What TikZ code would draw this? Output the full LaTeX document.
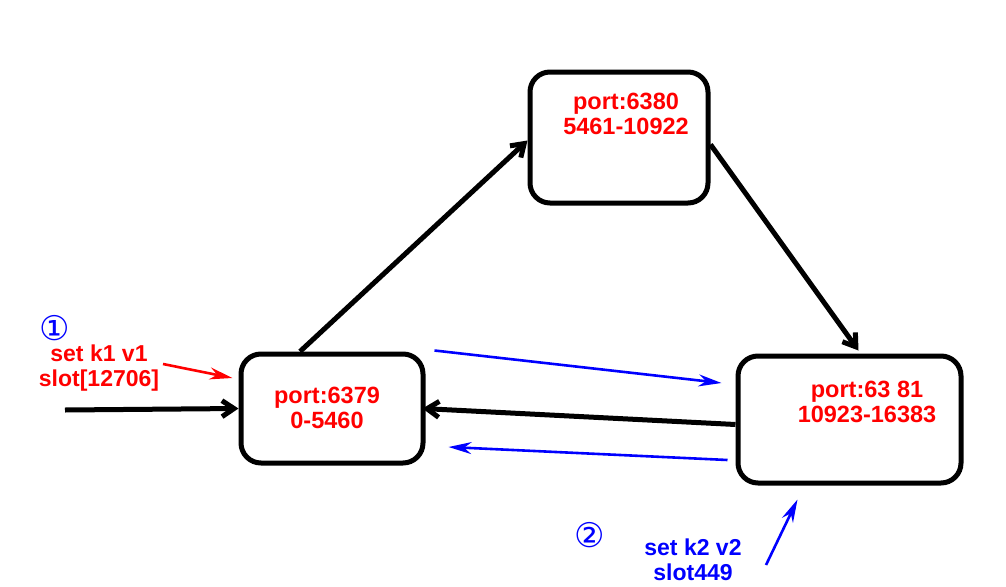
\documentclass[tikz,border=0pt]{standalone}
\usepackage{fontspec}
\setmainfont{Liberation Sans}
\newfontfamily\symfont{DejaVu Sans}
\usepackage{tikz}
\usetikzlibrary{arrows.meta, positioning, calc}
\tikzstyle{server}=[draw=black, line width=5pt, rounded corners=20pt, inner sep=0pt]
\tikzstyle{port}=[text=red, font=\bfseries\fontsize{23.5}{25.5}\selectfont, align=center]
\tikzstyle{link}=[-{Straight Barb[length=12pt,width=16pt]}, line width=5pt, color=black]
\tikzstyle{move}=[-{Stealth[length=23pt,width=12pt]}, line width=2.6pt, color=blue]
\tikzstyle{cmd}=[font=\bfseries\fontsize{23}{24.5}\selectfont, align=center]

\begin{document}
\begin{tikzpicture}[x=1pt, y=-1pt]
  \useasboundingbox (0,0) rectangle (1006,586);

  % Servers
  \node[server, minimum width=178pt, minimum height=131pt] (top) at (619,137.5) {};
  \node[server, minimum width=182pt, minimum height=109pt] (left) at (332,408.5) {};
  \node[server, minimum width=223pt, minimum height=127pt] (right) at (849.5,419.5) {};

  \node[port] (topTxt) at (626,114) {port:6380\\5461-10922};
  \node[port] (leftTxt) at (327,408) {port:6379\\0-5460};
  \node[port] (rightTxt) at (867,402) {port:63 81\\10923-16383};

  % Ring
  \draw[link] ([xshift=-32pt]left.north) -- ([yshift=-3pt]top.west);
  \draw[link] ([yshift=-7pt]top.east) -- ([xshift=9pt,yshift=3pt]right.north);
  \draw[link] ([yshift=-5pt]right.west) -- ([xshift=-3pt]left.east);

  % Client
  \coordinate (in) at (65,410);
  \draw[link] (in) -- (left.west);

  % Redirect
  \draw[move] ([xshift=9pt,yshift=1pt]left.north east) -- ([xshift=-14pt,yshift=36.5pt]right.west);
  \draw[move] ([xshift=-8pt,yshift=-40.5pt]right.west) -- ([xshift=23pt,yshift=-38.5pt]left.east);

  % Commands
  \node[text=blue, font=\symfont\fontsize{34}{36}\selectfont] (one) at (55,328) {①};
  \node[cmd, text=red] (k1) at (99,368) {set k1 v1\\slot[12706]};
  \coordinate (k1end) at (163,364);
  \draw[move, red] (k1end) -- ([xshift=-6pt,yshift=30.5pt]left.west);

  \node[text=blue, font=\symfont\fontsize{34}{36}\selectfont] (two) at (590,535) {②};
  \node[cmd, text=blue] (k2) at (693,560) {set k2 v2\\slot449};
  \coordinate (k2end) at (766,565);
  \draw[move] (k2end) -- ([xshift=-52pt,yshift=-14pt]right.south);
\end{tikzpicture}
\end{document}
